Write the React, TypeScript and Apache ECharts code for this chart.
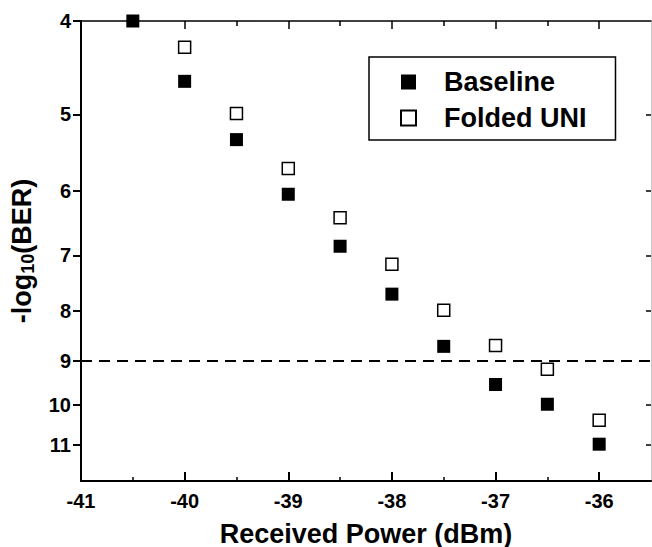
import React, { useEffect, useRef } from "react";
import * as echarts from "echarts";

const powerBaseline = [-40.5, -40, -39.5, -39, -38.5, -38, -37.5, -37, -36.5, -36];
const berBaseline = [4.0, 4.62, 5.31, 6.05, 6.85, 7.68, 8.7, 9.53, 9.99, 10.99];
const powerFolded = [-40, -39.5, -39, -38.5, -38, -37.5, -37, -36.5, -36];
const berFolded = [4.26, 4.99, 5.69, 6.4, 7.15, 7.98, 8.68, 9.19, 10.38];
const yTicks = [4, 5, 6, 7, 8, 9, 10, 11];
const yRightTicks = [5, 6, 7, 8, 10, 11];
const xMajorTicks = [-41, -40, -39, -38, -37, -36];
const xMinorTicks = [-40.5, -39.5, -38.5, -37.5, -36.5];
const thresholdBer = 9;

const FONT = "Liberation Sans, Arial, sans-serif";

export default function App() {
  const ref = useRef<HTMLDivElement>(null);
  useEffect(() => {
    if (!ref.current) return;
    const chart = echarts.init(ref.current, null, { renderer: "svg" });
    const black = "#000";
    const xBase = { min: -41, max: -35.5, type: "value" as const, splitLine: { show: false } };
    const yBase = { type: "log" as const, logBase: 10, min: 4, max: 12, inverse: true, splitLine: { show: false } };
    const hiddenX = (position: string, ticks: number[], length: number, showLine: boolean) => ({
      ...xBase,
      position,
      axisLine: { show: showLine, lineStyle: { color: black, width: 1.5 } },
      axisTick: { show: true, inside: true, length, customValues: ticks, lineStyle: { color: black, width: 1.5 } },
      axisLabel: { show: false },
    });
    chart.setOption({
      animation: false,
      backgroundColor: "#fff",
      textStyle: { fontFamily: FONT },
      grid: { left: 81, top: 21, right: 1, bottom: 66, containLabel: false, outerBoundsMode: "none" },
      legend: {
        orient: "vertical",
        left: 369,
        top: 57,
        padding: [10, 29, 7, 31],
        borderColor: black,
        borderWidth: 1.5,
        itemWidth: 15,
        itemHeight: 15,
        itemGap: 6,
        textStyle: { fontSize: 27, fontWeight: "bold", color: black, fontFamily: FONT, lineHeight: 30, padding: [0, 0, 0, 23] },
        data: ["Baseline", "Folded UNI"],
      },
      xAxis: [
        {
          ...xBase,
          position: "bottom",
          name: "Received Power (dBm)",
          nameLocation: "middle",
          nameGap: 39,
          nameTextStyle: { fontSize: 27, fontWeight: "bold", color: black, fontFamily: FONT },
          axisLine: { show: true, lineStyle: { color: black, width: 2 } },
          axisTick: { show: true, inside: true, length: 9, customValues: xMajorTicks, lineStyle: { color: black, width: 2 } },
          axisLabel: { customValues: xMajorTicks, margin: 10, fontSize: 20, fontWeight: "bold", color: black, fontFamily: FONT },
        },
        hiddenX("bottom", xMinorTicks, 4, false),
        hiddenX("top", xMajorTicks, 8, true),
        hiddenX("top", xMinorTicks, 5, false),
      ],
      yAxis: [
        {
          ...yBase,
          position: "left",
          name: "{a|-log}{b|10}{a|(BER)}",
          nameLocation: "middle",
          nameRotate: 90,
          nameGap: 44,
          nameTextStyle: {
            color: black,
            rich: {
              a: { fontSize: 27, fontWeight: "bold", fontFamily: FONT, color: black, lineHeight: 30 },
              b: { fontSize: 18, fontWeight: "bold", fontFamily: FONT, color: black, verticalAlign: "bottom", lineHeight: 14 },
            },
          },
          axisLine: { show: true, lineStyle: { color: black, width: 2 } },
          axisTick: { show: true, inside: false, length: 8, customValues: yTicks, lineStyle: { color: black, width: 2 } },
          axisLabel: { customValues: yTicks, margin: 10, fontSize: 20, fontWeight: "bold", color: black, fontFamily: FONT },
        },
        {
          ...yBase,
          position: "right",
          axisLine: { show: true, lineStyle: { color: "#c8c8c8", width: 1 } },
          axisTick: { show: true, inside: true, length: 5, customValues: yRightTicks, lineStyle: { color: black, width: 1.5 } },
          axisLabel: { show: false },
        },
      ],
      series: [
        {
          name: "Baseline",
          type: "scatter",
          xAxisIndex: 0,
          yAxisIndex: 0,
          symbol: "rect",
          symbolSize: 13,
          clip: true,
          itemStyle: { color: black, opacity: 1 },
          data: powerBaseline.map((p, i) => [p, berBaseline[i]]),
          markLine: {
            silent: true,
            symbol: "none",
            label: { show: false },
            lineStyle: { color: black, width: 2, type: [11, 7] },
            data: [{ yAxis: thresholdBer }],
          },
        },
        {
          name: "Folded UNI",
          type: "scatter",
          xAxisIndex: 0,
          yAxisIndex: 0,
          symbol: "rect",
          symbolSize: 12,
          clip: true,
          itemStyle: { color: "#fff", borderColor: black, borderWidth: 1.5, opacity: 1 },
          data: powerFolded.map((p, i) => [p, berFolded[i]]),
        },
      ],
    });
    return () => chart.dispose();
  }, []);
  return (
    <div
      ref={ref}
      style={{ position: "fixed", left: 0, top: 0, width: 652, height: 547 }}
    />
  );
}
